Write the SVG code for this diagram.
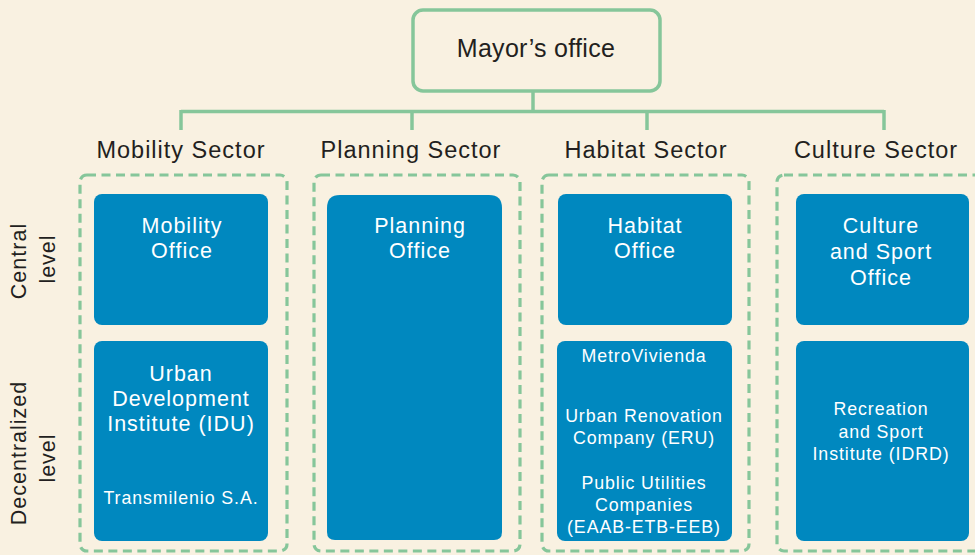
<svg xmlns="http://www.w3.org/2000/svg" width="975" height="555" viewBox="0 0 975 555">
<style>
.bg{fill:#F9F1E1}
.conn{stroke:#86C69A;stroke-width:3.5;fill:none}
.mayor{fill:#F9F1E1;stroke:#86C69A;stroke-width:3.5}
.sector{fill:none;stroke:#86C69A;stroke-width:3.2;stroke-dasharray:9 5.5}
.box{fill:#0088BF}
.dark{font-family:"Liberation Sans",Arial,sans-serif;fill:#231F20;text-anchor:middle}
.w{font-family:"Liberation Sans",Arial,sans-serif;fill:#FFFFFF;text-anchor:middle}
.t21{font-size:21.5px;letter-spacing:1px}
.t18{font-size:17.8px;letter-spacing:0.9px}
.sec{font-size:23.5px;letter-spacing:1px}
</style>
<rect class="bg" x="0" y="0" width="975" height="555"/>

<g id="connectors">
<path class="conn" d="M533 92 V111.5 M181 111.5 H884 M181 110 V130 M412 110 V130 M647 110 V130 M884 110 V130"/>
</g>

<g id="mayor">
<rect class="mayor" x="413" y="10" width="247" height="81" rx="10"/>
<text class="dark" x="536" y="57" font-size="25" letter-spacing="0.3">Mayor’s office</text>
</g>

<g id="labels">
<text class="dark sec" x="181" y="158">Mobility Sector</text>
<text class="dark sec" x="411" y="158">Planning Sector</text>
<text class="dark sec" x="646" y="158">Habitat Sector</text>
<text class="dark sec" x="876" y="158">Culture Sector</text>
<text class="dark t21" transform="translate(26,261) rotate(-90)">Central</text>
<text class="dark t21" transform="translate(55,259) rotate(-90)">level</text>
<text class="dark t21" transform="translate(26,453) rotate(-90)">Decentralized</text>
<text class="dark t21" transform="translate(55,458) rotate(-90)">level</text>
</g>

<g id="mobility-sector">
<rect class="sector" x="80" y="175" width="207" height="376" rx="7"/>
</g>
<g id="planning-sector">
<rect class="sector" x="314" y="175" width="206" height="376" rx="7"/>
</g>
<g id="habitat-sector">
<rect class="sector" x="542" y="175" width="207" height="376" rx="7"/>
</g>
<g id="culture-sector">
<rect class="sector" x="777" y="175" width="230" height="376" rx="7"/>
</g>

<g id="mobility-office">
<rect class="box" x="94" y="194" width="174" height="131" rx="8"/>
<text class="w t21" x="182" y="233">Mobility</text>
<text class="w t21" x="182" y="258">Office</text>
</g>
<g id="mobility-decentral">
<rect class="box" x="94" y="341" width="174" height="200" rx="8"/>
<text class="w t21" x="181" y="381">Urban</text>
<text class="w t21" x="181" y="406">Development</text>
<text class="w t21" x="181" y="431">Institute (IDU)</text>
<text class="w t18" x="181" y="504">Transmilenio S.A.</text>
</g>

<g id="planning-office">
<path class="box" d="M340 195 H489 Q502 195 502 208 V532 Q502 540 494 540 H335 Q327 540 327 532 V208 Q327 195 340 195 Z"/>
<text class="w t21" x="420" y="233">Planning</text>
<text class="w t21" x="420" y="258">Office</text>
</g>

<g id="habitat-office">
<rect class="box" x="558" y="194" width="174" height="131" rx="8"/>
<text class="w t21" x="645" y="233">Habitat</text>
<text class="w t21" x="645" y="258">Office</text>
</g>
<g id="habitat-decentral">
<rect class="box" x="557" y="341" width="175" height="200" rx="8"/>
<text class="w t18" x="644" y="362">MetroVivienda</text>
<text class="w t18" x="644" y="422">Urban Renovation</text>
<text class="w t18" x="644" y="444">Company (ERU)</text>
<text class="w t18" x="644" y="489">Public Utilities</text>
<text class="w t18" x="644" y="511">Companies</text>
<text class="w t18" x="644" y="533">(EAAB-ETB-EEB)</text>
</g>

<g id="culture-office">
<rect class="box" x="796" y="194" width="173" height="131" rx="8"/>
<text class="w t21" x="881" y="233">Culture</text>
<text class="w t21" x="881" y="259">and Sport</text>
<text class="w t21" x="881" y="285">Office</text>
</g>
<g id="culture-decentral">
<rect class="box" x="796" y="341" width="173" height="200" rx="8"/>
<text class="w t18" x="881" y="415">Recreation</text>
<text class="w t18" x="881" y="438">and Sport</text>
<text class="w t18" x="881" y="460">Institute (IDRD)</text>
</g>
</svg>
